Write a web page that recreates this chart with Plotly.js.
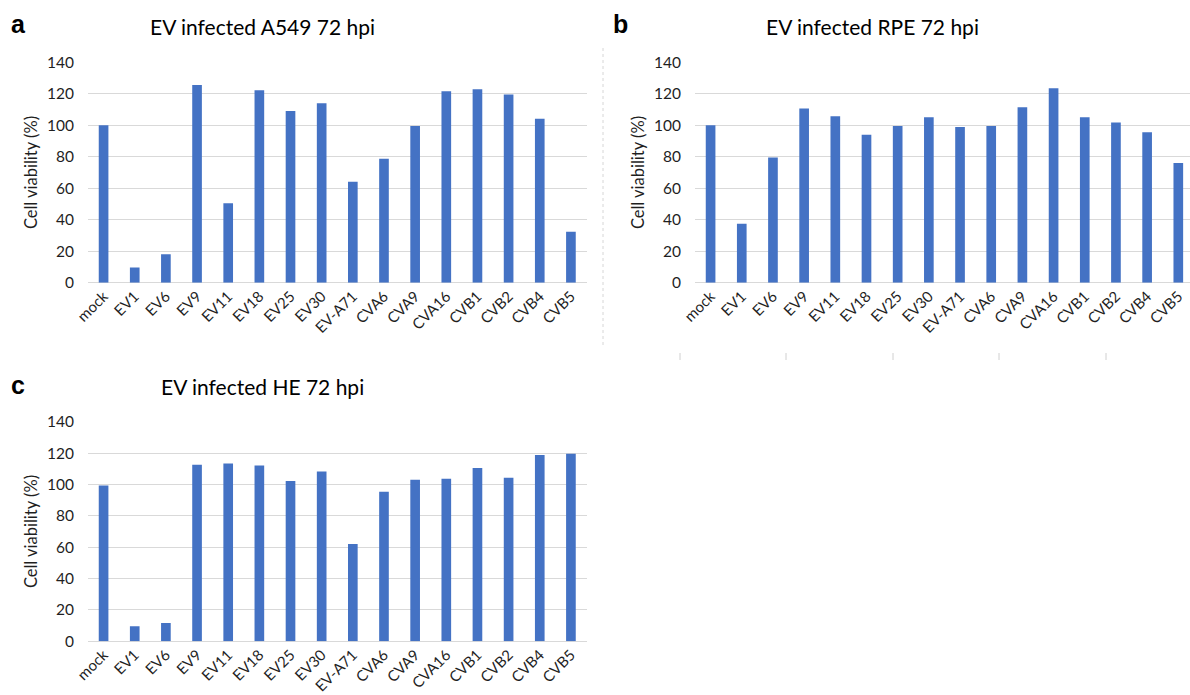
<!DOCTYPE html>
<html>
<head>
<meta charset="utf-8">
<script src="https://cdn.plot.ly/plotly-3.0.1.min.js"></script>
<style>html,body{margin:0;padding:0;background:#fff;}#chart{width:1190px;height:695px;}</style>
</head>
<body>
<div id="chart"></div>
<script>
// ---- data ----
const categories = ["mock","EV1","EV6","EV9","EV11","EV18","EV25","EV30","EV-A71","CVA6","CVA9","CVA16","CVB1","CVB2","CVB4","CVB5"];
const a549Viability = [100, 9.7, 18.0, 125.6, 50.4, 122.2, 109.1, 114.0, 64.2, 78.8, 99.6, 121.6, 122.9, 119.6, 104.2, 32.4];
const rpeViability  = [100, 37.5, 79.6, 110.6, 105.7, 94.0, 99.6, 105.1, 98.9, 99.6, 111.4, 123.5, 105.1, 101.7, 95.5, 76.0];
const heViability   = [99.4, 9.6, 11.7, 112.6, 113.4, 112.0, 102.2, 108.3, 62.0, 95.4, 103.0, 103.7, 110.5, 104.3, 118.8, 119.6];
const yTickVals = [0, 20, 40, 60, 80, 100, 120, 140];
const panelTitles = ["EV infected A549 72 hpi", "EV infected RPE 72 hpi", "EV infected HE 72 hpi"];
const panelLetters = ["a", "b", "c"];
const yTitle = "Cell viability (%)";

// ---- styling ----
const W = 1190, H = 695;
const FONT = "Lato, 'Open Sans', sans-serif";
const BAR = "#4472C4";
const GRID = "#D9D9D9";
const TXT = "#1f1f1f";
const px = v => v / W;
const py = v => 1 - v / H;

function bar(y, xa, ya) {
  return {type: "bar", x: categories, y: y, xaxis: xa, yaxis: ya,
    marker: {color: BAR, line: {width: 0}}, hoverinfo: "x+y", showlegend: false};
}
const data = [bar(a549Viability, "x", "y"), bar(rpeViability, "x2", "y2"), bar(heViability, "x3", "y3")];

function xax(dom, anchor, range) {
  return {domain: dom, anchor: anchor, type: "category", range: range, tickangle: -45,
    showgrid: false, showline: false, zeroline: false, ticks: "", ticklabelstandoff: 1,
    tickfont: {family: FONT, size: 15, color: TXT}, fixedrange: true, automargin: false};
}
function yax(dom, anchor) {
  return {domain: dom, anchor: anchor, range: [0, 140], tickvals: yTickVals,
    showgrid: true, gridcolor: GRID, gridwidth: 1, zeroline: true, zerolinecolor: GRID, zerolinewidth: 1,
    showline: false, ticks: "", ticklabelstandoff: 13,
    tickfont: {family: FONT, size: 15.5, color: TXT},
    title: {text: yTitle, font: {family: FONT, size: 16.5, color: TXT}, standoff: 5},
    fixedrange: true, automargin: false};
}

const domA_x = [px(88), px(586.5)];
const domB_x = [px(695), 1];
const domTop_y = [py(282.7), py(62.3)];
const domBot_y = [py(641.3), py(421.7)];
const catRangeFull = [-0.5, 15.5];
const catRangeCut = [-0.5, 15.375];

function ann(text, x, y, size, bold, fam) {
  return {text: bold ? "<b>" + text + "</b>" : text, x: px(x), y: py(y), xref: "paper", yref: "paper",
    xanchor: "center", yanchor: "middle", showarrow: false,
    font: {family: fam || FONT, size: size, color: "#000"}};
}

const layout = {
  width: W, height: H,
  margin: {l: 0, r: 0, t: 0, b: 0},
  paper_bgcolor: "#fff", plot_bgcolor: "#fff",
  bargap: 0.69,
  xaxis: xax(domA_x, "y", catRangeFull),
  yaxis: yax(domTop_y, "x"),
  xaxis2: xax(domB_x, "y2", catRangeCut),
  yaxis2: yax(domTop_y, "x2"),
  xaxis3: xax(domA_x, "y3", catRangeFull),
  yaxis3: yax(domBot_y, "x3"),
  annotations: [
    ann(panelTitles[0], 262, 26, 21, false),
    ann(panelTitles[1], 872.5, 26, 21, false),
    ann(panelTitles[2], 262, 386, 21, false),
    ann(panelLetters[0], 18, 24, 25, true, "'Liberation Sans', Arial, sans-serif"),
    ann(panelLetters[1], 620, 24, 25, true, "'Liberation Sans', Arial, sans-serif"),
    ann(panelLetters[2], 18, 385, 25, true, "'Liberation Sans', Arial, sans-serif")
  ],
  shapes: [
    {type: "line", xref: "paper", yref: "paper", x0: px(603), x1: px(603), y0: py(48), y1: py(348),
     line: {color: "#d6d6d6", width: 1, dash: "dot"}},
    ...[680, 786, 893, 999, 1106].map(x => ({type: "line", xref: "paper", yref: "paper",
      x0: px(x), x1: px(x), y0: py(353), y1: py(360), line: {color: "#d0d0d0", width: 1}}))
  ]
};

Plotly.newPlot("chart", data, layout, {displayModeBar: false, staticPlot: true});
</script>
</body>
</html>
